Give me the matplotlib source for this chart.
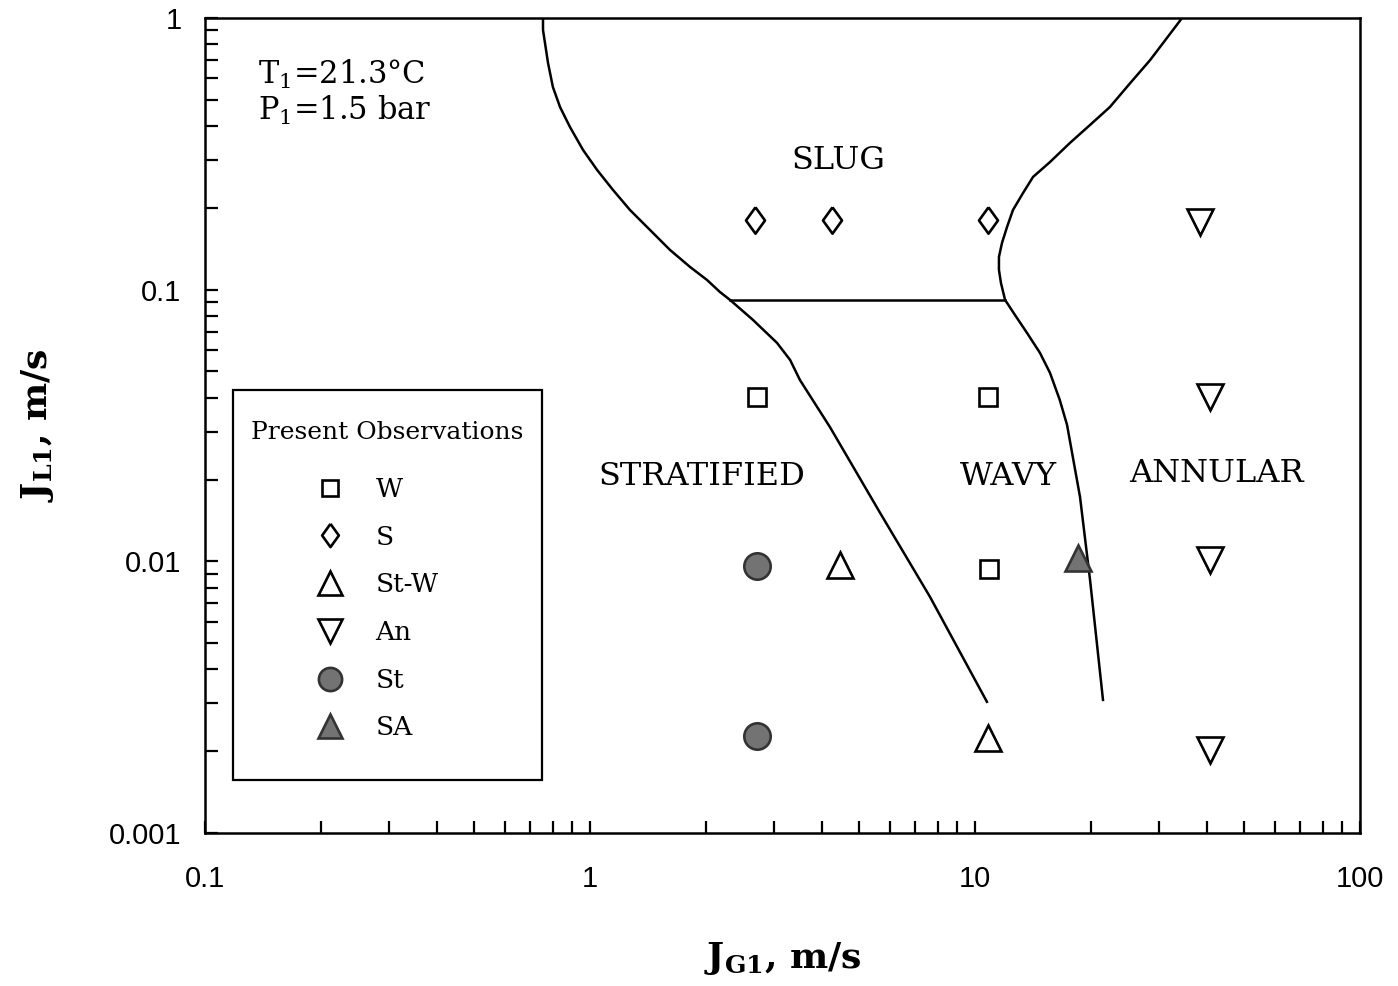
import matplotlib
matplotlib.use("Agg")
import matplotlib.pyplot as plt
from matplotlib.lines import Line2D
from matplotlib.patches import Rectangle
from matplotlib.ticker import LogLocator, NullFormatter, FixedLocator, FixedFormatter

plt.rcParams['mathtext.fontset'] = 'custom'
plt.rcParams['mathtext.rm'] = 'DejaVu Serif'
plt.rcParams['mathtext.bf'] = 'DejaVu Serif:bold'
plt.rcParams['mathtext.it'] = 'DejaVu Serif:italic'

# ---- Observations ----
W_x = [2.71, 10.8, 10.9]
W_y = [0.0403, 0.0403, 0.0094]
S_x = [2.68, 4.25, 10.8]
S_y = [0.18, 0.18, 0.18]
StW_x = [4.46, 10.8]
StW_y = [0.0097, 0.00224]
An_x = [38.4, 40.8, 40.8, 40.8]
An_y = [0.177, 0.0403, 0.0101, 0.00202]
St_x = [2.71, 2.71]
St_y = [0.0096, 0.00228]
SA_x = [18.5]
SA_y = [0.0103]

# ---- Transition boundaries ----
left_x = [0.755, 0.755, 0.764, 0.778, 0.801, 0.836, 0.887, 0.959, 1.043, 1.147,
          1.270, 1.431, 1.614, 1.818, 2.013, 2.176, 2.31, 2.65, 3.06, 3.31,
          3.51, 4.20, 5.67, 7.64, 10.74]
left_y = [1.0, 0.903, 0.809, 0.683, 0.557, 0.470, 0.397, 0.327, 0.276, 0.233,
          0.1965, 0.166, 0.140, 0.1213, 0.1086, 0.098, 0.0917, 0.0774, 0.0637, 0.0551,
          0.0465, 0.0312, 0.01507, 0.0074, 0.00304]
right_x = [34.5, 30.8, 28.5, 25.3, 22.4, 19.9, 17.65, 15.66, 14.15, 13.33,
           12.55, 12.11, 11.75, 11.54, 11.54, 11.68, 11.97, 12.7, 13.65, 14.75,
           15.66, 16.6, 17.34, 18.74, 19.9, 21.5]
right_y = [1.0, 0.809, 0.700, 0.576, 0.470, 0.404, 0.347, 0.295, 0.260, 0.227,
           0.1965, 0.170, 0.1485, 0.132, 0.1182, 0.1058, 0.0917, 0.0807, 0.0693, 0.0585,
           0.0494, 0.0393, 0.0318, 0.01726, 0.00854, 0.00309]
horiz_x = [2.31, 11.97]
horiz_y = [0.0917, 0.0917]

xticks = [0.1, 1, 10, 100]
xticklabels = ['0.1', '1', '10', '100']
yticks = [0.001, 0.01, 0.1, 1]
yticklabels = ['0.001', '0.01', '0.1', '1']

regions = [('SLUG', 4.41, 0.300), ('STRATIFIED', 1.954, 0.0206),
           ('WAVY', 12.18, 0.0206), ('ANNULAR', 42.3, 0.0211)]

legend_title = 'Present Observations'
legend_labels = ['W', 'S', 'St-W', 'An', 'St', 'SA']

serif = 'DejaVu Serif'
sans = 'Liberation Sans'
gray = '#737373'
diamond = [(0, 1), (0.72, 0), (0, -1), (-0.72, 0), (0, 1)]

fig = plt.figure(figsize=(13.98, 9.86), dpi=100)
ax = fig.add_axes([205/1398, 1-833/986, (1360-205)/1398, (833-18)/986])
ax.set_xscale('log')
ax.set_yscale('log')
ax.set_xlim(0.1, 100)
ax.set_ylim(0.001, 1)

lw = 1.8
ax.plot(left_x, left_y, color='black', lw=lw, solid_joinstyle='round')
ax.plot(right_x, right_y, color='black', lw=lw, solid_joinstyle='round')
ax.plot(horiz_x, horiz_y, color='black', lw=lw)

mew = 1.9
styles = [
    dict(marker='s', ms=13, mfc='white', mec='black'),
    dict(marker=diamond, ms=19, mfc='white', mec='black'),
    dict(marker='^', ms=19, mfc='white', mec='black'),
    dict(marker='v', ms=19, mfc='white', mec='black'),
    dict(marker='o', ms=19, mfc=gray, mec='#333333'),
    dict(marker='^', ms=19, mfc=gray, mec='#333333'),
]
data = [(W_x, W_y), (S_x, S_y), (StW_x, StW_y), (An_x, An_y), (St_x, St_y), (SA_x, SA_y)]
for (xs, ys), st in zip(data, styles):
    ax.plot(xs, ys, ls='none', mew=mew, zorder=3, **st)

for name, xv, yv in regions:
    ax.text(xv, yv, name, fontsize=23, family=serif, ha='center', va='center')

ax.text((258-205)/1155, (833-84)/815, '$\\mathrm{T_1}$=21.3°C', transform=ax.transAxes,
        fontsize=22, family=serif, va='baseline', ha='left')
ax.text((258-205)/1155, (833-120)/815, '$\\mathrm{P_1}$=1.5 bar', transform=ax.transAxes,
        fontsize=22, family=serif, va='baseline', ha='left')

# ticks
ax.xaxis.set_major_locator(FixedLocator(xticks))
ax.xaxis.set_major_formatter(FixedFormatter(xticklabels))
ax.yaxis.set_major_locator(FixedLocator(yticks))
ax.yaxis.set_major_formatter(FixedFormatter(yticklabels))
ax.xaxis.set_minor_locator(LogLocator(base=10, subs=range(2, 10)))
ax.yaxis.set_minor_locator(LogLocator(base=10, subs=range(2, 10)))
ax.xaxis.set_minor_formatter(NullFormatter())
ax.yaxis.set_minor_formatter(NullFormatter())
ax.tick_params(which='both', direction='in', length=9, width=1.6,
               top=False, right=False)
ax.tick_params(axis='x', which='major', pad=23, labelsize=21)
ax.tick_params(axis='y', which='major', pad=17, labelsize=21)
for lab in ax.get_xticklabels() + ax.get_yticklabels():
    lab.set_family(sans)
for sp in ax.spines.values():
    sp.set_linewidth(1.8)

ax.set_xlabel('$\\mathbf{J_{G1}}$, m/s', fontsize=26, family=serif,
              fontweight='bold', labelpad=34)
ax.set_ylabel('$\\mathbf{J_{L1}}$, m/s', fontsize=26, family=serif,
              fontweight='bold', labelpad=38)

# legend: frame, title, entries
ax.add_patch(Rectangle(((233-205)/1155, (833-780)/815), 309/1155, 390/815,
                       transform=ax.transAxes, facecolor='white', edgecolor='black',
                       lw=1.6, zorder=4))
ax.text((387.5-205)/1155, (833-432)/815, legend_title, transform=ax.transAxes,
        fontsize=18, family=serif, ha='center', va='center', zorder=5)
handles = [Line2D([], [], ls='none', mew=mew, **st) for st in styles]
leg = ax.legend(handles, legend_labels, loc='upper left',
                bbox_to_anchor=((317.5-205)/1155, (833-477)/815),
                frameon=False, prop={'family': serif, 'size': 19},
                labelspacing=0.86, handlelength=0.95, handletextpad=1.25,
                borderpad=0, borderaxespad=0, markerscale=0.88)
leg.set_zorder(6)

fig.savefig('out.png', dpi=100)
